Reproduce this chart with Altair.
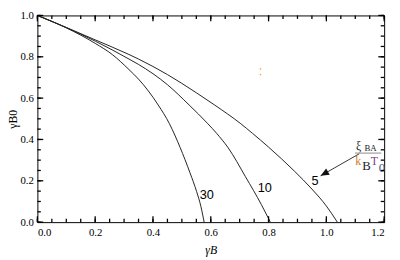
import altair as alt
import pandas as pd

# curve samples (gamma_B, gamma_B0)
c5_x = [0, 0.1, 0.2, 0.317, 0.35, 0.45, 0.55, 0.614, 0.704, 0.744, 0.80, 0.89, 0.95, 1.0, 1.038]
c5_y = [1, 0.942, 0.882, 0.811, 0.789, 0.714, 0.626, 0.566, 0.476, 0.430, 0.363, 0.246, 0.16, 0.078, 0]
c10_x = [0, 0.1, 0.2, 0.317, 0.35, 0.45, 0.525, 0.59, 0.62, 0.66, 0.72, 0.775, 0.806]
c10_y = [1, 0.941, 0.876, 0.789, 0.763, 0.665, 0.567, 0.476, 0.430, 0.36, 0.22, 0.085, 0]
c30_x = [0, 0.1, 0.2, 0.26, 0.317, 0.35, 0.418, 0.457, 0.494, 0.528, 0.551, 0.566, 0.577]
c30_y = [1, 0.94, 0.865, 0.81, 0.738, 0.692, 0.567, 0.476, 0.361, 0.239, 0.148, 0.075, 0]

curve_names = ["5", "10", "30"]
label_x = [0.961, 0.787, 0.586]
label_y = [0.201, 0.163, 0.130]

x_major = [0, 0.2, 0.4, 0.6, 0.8, 1.0, 1.2]
x_minor = [round(i * 0.05, 2) for i in range(25)]
y_major = [0, 0.2, 0.4, 0.6, 0.8, 1.0]
y_minor = [round(i * 0.05, 2) for i in range(21)]

# annotation: arrow and fraction xi_BA / (k_B T_0)
arrow_x = [1.114]
arrow_y = [0.331]
arrow_x2 = [0.980]
arrow_y2 = [0.224]
bar_x = [1.099]
bar_x2 = [1.190]
bar_y = [0.334]
frac_text = ["ξ", "BA", "k", "B", "T", "0"]
frac_x = [1.112, 1.153, 1.110, 1.139, 1.166, 1.192]
frac_y = [0.366, 0.357, 0.293, 0.273, 0.297, 0.263]
frac_size = [12, 9, 12, 13, 12, 13]
frac_color = ["#222222", "#222222", "#c8802a", "#222222", "#7a3a8a", "#3b5b86"]
dot_x = [0.772, 0.772]
dot_y = [0.741, 0.714]

W, H = 354, 211
XMAX, YMAX = 1.2, 1.0
MAJ, MIN = 6, 3.5  # tick lengths in pixels

rows = []
for name, xs, ys in [("5", c5_x, c5_y), ("10", c10_x, c10_y), ("30", c30_x, c30_y)]:
    for a, b in zip(xs, ys):
        rows.append({"curve": name, "x": a, "y": b})
curves = pd.DataFrame(rows)
labels_df = pd.DataFrame({"t": curve_names, "x": label_x, "y": label_y})

# tick segments, converted from pixel length to data units
seg = []
for vals, ln in [(x_minor, MIN), (x_major, MAJ)]:
    d = ln / H * YMAX
    for v in vals:
        seg.append({"x": v, "x2": v, "y": 0.0, "y2": d})
        seg.append({"x": v, "x2": v, "y": YMAX, "y2": YMAX - d})
for vals, ln in [(y_minor, MIN), (y_major, MAJ)]:
    d = ln / W * XMAX
    for v in vals:
        seg.append({"x": 0.0, "x2": d, "y": v, "y2": v})
        seg.append({"x": XMAX, "x2": XMAX - d, "y": v, "y2": v})
ticks_df = pd.DataFrame(seg)

rules = pd.DataFrame({
    "x": arrow_x + bar_x, "y": arrow_y + bar_y,
    "x2": arrow_x2 + bar_x2, "y2": arrow_y2 + bar_y,
    "c": ["#333333", "#8a8a8a"],
})
head = pd.DataFrame({"x": arrow_x2, "y": arrow_y2})
dots = pd.DataFrame({"x": dot_x, "y": dot_y})
frac = pd.DataFrame({"t": frac_text, "x": frac_x, "y": frac_y, "s": frac_size, "c": frac_color})

XD = alt.Scale(domain=[0, XMAX], nice=False, zero=False)
YD = alt.Scale(domain=[0, YMAX], nice=False, zero=False)
SERIF = "Liberation Serif"

lab_kw = dict(format=".1f", labelFont=SERIF, labelFontSize=11, labelColor="black",
              titleFont=SERIF, titleFontSize=12, titleColor="black",
              titleFontWeight="normal", labelOverlap=False, ticks=False, domain=False,
              grid=False)

lines = alt.Chart(curves).mark_line(color="#222222", strokeWidth=1.0, interpolate="monotone").encode(
    x=alt.X("x:Q", scale=XD, axis=alt.Axis(values=x_major, title="γB", titlePadding=7,
                                           titleFontStyle="italic", labelPadding=5, **lab_kw)),
    y=alt.Y("y:Q", scale=YD, axis=alt.Axis(values=y_major, title="γB0", titlePadding=1,
                                           labelPadding=4, **lab_kw)),
    detail="curve:N",
    order="x:Q",
)

tick_layer = alt.Chart(ticks_df).mark_rule(color="#000000", strokeWidth=1.3, opacity=1).encode(
    x=alt.X("x:Q", scale=XD), y=alt.Y("y:Q", scale=YD), x2="x2:Q", y2="y2:Q",
)

texts = alt.Chart(labels_df).mark_text(font="Liberation Sans", fontSize=13, color="black").encode(
    x=alt.X("x:Q", scale=XD), y=alt.Y("y:Q", scale=YD), text="t:N",
)

rule_layer = alt.Chart(rules).mark_rule(strokeWidth=1).encode(
    x=alt.X("x:Q", scale=XD), y=alt.Y("y:Q", scale=YD),
    x2="x2:Q", y2="y2:Q",
    color=alt.Color("c:N", scale=None),
)

dot_layer = alt.Chart(dots).mark_square(size=2, color="#f0a030", opacity=1).encode(
    x=alt.X("x:Q", scale=XD), y=alt.Y("y:Q", scale=YD),
)

head_layer = alt.Chart(head).mark_point(shape="M0,0L0.42,1L-0.42,1Z", angle=240, size=300,
                                        filled=True, color="#111111", opacity=1).encode(
    x=alt.X("x:Q", scale=XD), y=alt.Y("y:Q", scale=YD),
)

frac_layer = alt.Chart(frac).mark_text(font=SERIF).encode(
    x=alt.X("x:Q", scale=XD), y=alt.Y("y:Q", scale=YD),
    text="t:N",
    size=alt.Size("s:Q", scale=None),
    color=alt.Color("c:N", scale=None),
)

chart = alt.layer(lines, texts, rule_layer, dot_layer, head_layer, frac_layer, tick_layer).properties(
    width=W, height=H,
    autosize=alt.AutoSizeParams(type="none"),
    padding={"left": 30, "top": 5, "right": 8, "bottom": 34},
    background="white",
).configure_view(stroke="black", strokeWidth=1)

chart.save("out.html", embed_options={"renderer": "svg", "actions": False})
